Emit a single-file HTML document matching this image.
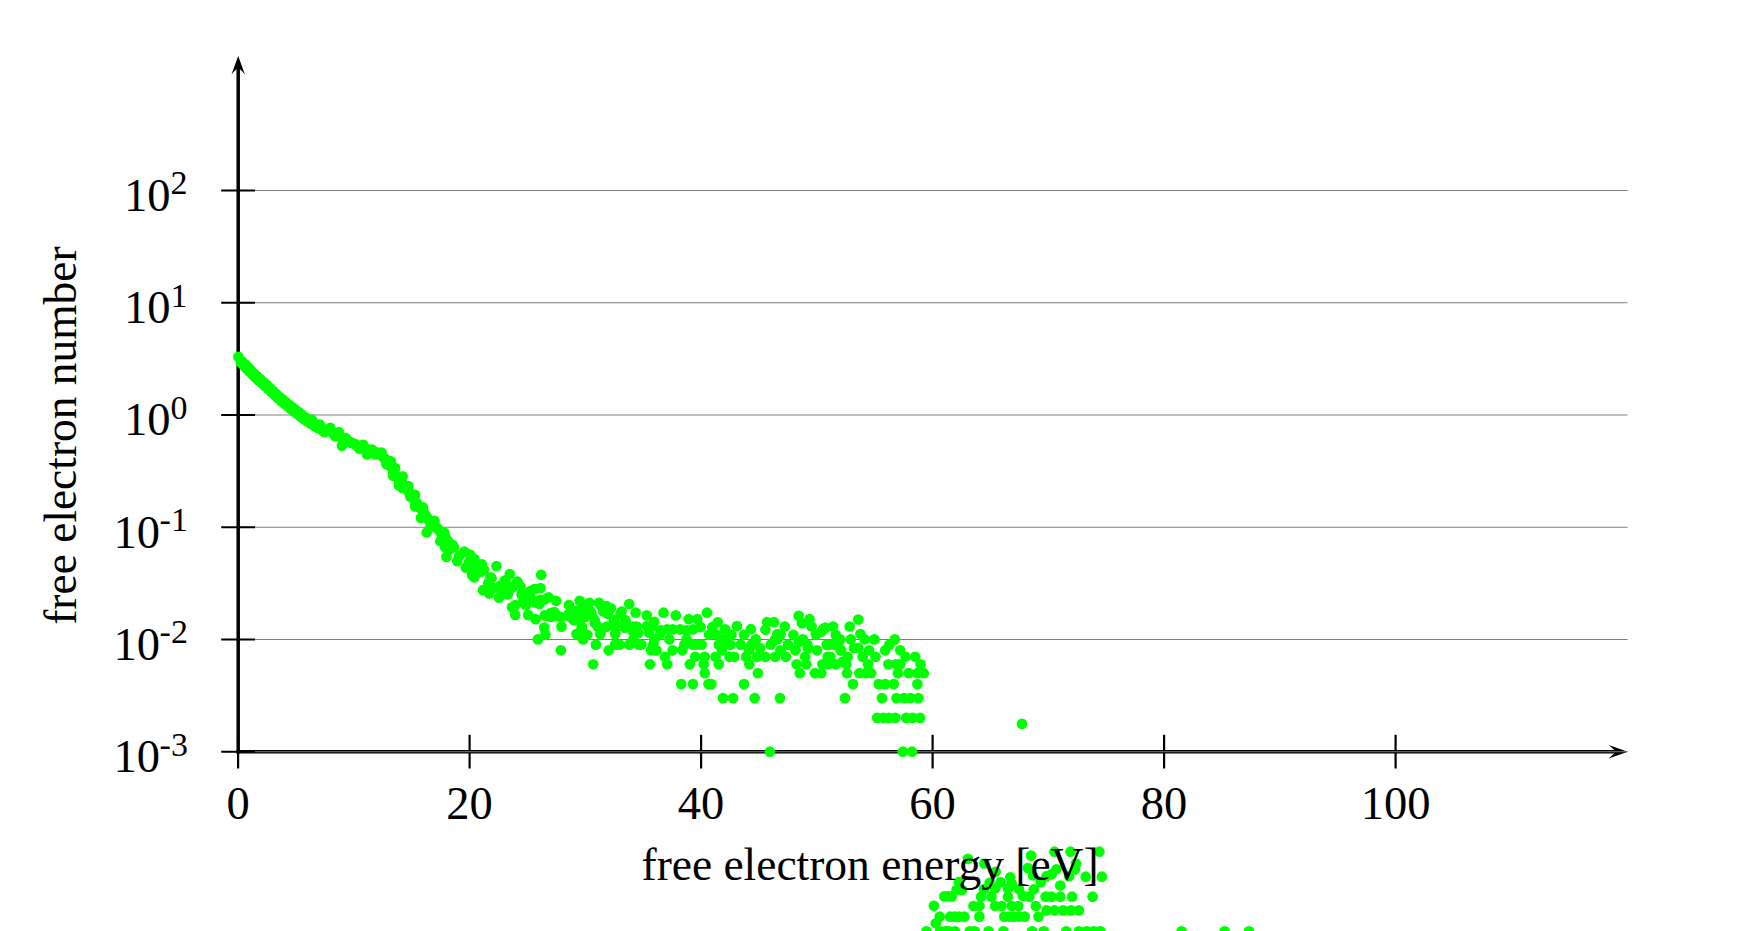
<!DOCTYPE html>
<html><head><meta charset="utf-8"><style>
html,body{margin:0;padding:0;background:#fff;overflow:hidden;}
svg{display:block;}
text{font-family:"Liberation Serif",serif;fill:#000;}
</style></head><body>
<svg width="1740" height="931" viewBox="0 0 1740 931">
<rect width="1740" height="931" fill="#fff"/>
<line x1="238.2" y1="753.4" x2="238.2" y2="62" stroke="#000" stroke-width="3.5"/>
<line x1="236.5" y1="751.75" x2="1621" y2="751.75" stroke="#000" stroke-width="3.5"/>
<path d="M238.2,55.9 L244.9,74.6 Q240.5,69.0 238.2,68.0 Q235.9,69.0 231.5,74.6 Z" fill="#000"/>
<path d="M1627.8,751.75 L1608.7,745.0 Q1614.3,749.6 1615.3,751.75 Q1614.3,753.9 1608.7,758.5 Z" fill="#000"/>
<line x1="238.1" y1="734.8" x2="238.1" y2="768.5" stroke="#000" stroke-width="2.2"/>
<line x1="469.6" y1="734.8" x2="469.6" y2="768.5" stroke="#000" stroke-width="2.2"/>
<line x1="701.1" y1="734.8" x2="701.1" y2="768.5" stroke="#000" stroke-width="2.2"/>
<line x1="932.6" y1="734.8" x2="932.6" y2="768.5" stroke="#000" stroke-width="2.2"/>
<line x1="1164.1" y1="734.8" x2="1164.1" y2="768.5" stroke="#000" stroke-width="2.2"/>
<line x1="1395.6" y1="734.8" x2="1395.6" y2="768.5" stroke="#000" stroke-width="2.2"/>
<line x1="238.1" y1="190.48" x2="1627.6" y2="190.48" stroke="#808080" stroke-width="1.05"/>
<line x1="238.1" y1="302.74" x2="1627.6" y2="302.74" stroke="#808080" stroke-width="1.05"/>
<line x1="238.1" y1="415.0" x2="1627.6" y2="415.0" stroke="#808080" stroke-width="1.05"/>
<line x1="238.1" y1="527.25" x2="1627.6" y2="527.25" stroke="#808080" stroke-width="1.05"/>
<line x1="238.1" y1="639.5" x2="1627.6" y2="639.5" stroke="#808080" stroke-width="1.05"/>
<line x1="238.1" y1="751.75" x2="1627.6" y2="751.75" stroke="#808080" stroke-width="1.05"/>
<line x1="221.2" y1="190.48" x2="255" y2="190.48" stroke="#000" stroke-width="2.2"/>
<line x1="221.2" y1="302.74" x2="255" y2="302.74" stroke="#000" stroke-width="2.2"/>
<line x1="221.2" y1="415.0" x2="255" y2="415.0" stroke="#000" stroke-width="2.2"/>
<line x1="221.2" y1="527.25" x2="255" y2="527.25" stroke="#000" stroke-width="2.2"/>
<line x1="221.2" y1="639.5" x2="255" y2="639.5" stroke="#000" stroke-width="2.2"/>
<line x1="221.2" y1="751.75" x2="255" y2="751.75" stroke="#000" stroke-width="2.2"/>
<g fill="#00ff00">
<circle cx="238.4" cy="356.9" r="5.35"/>
<circle cx="240.9" cy="362.8" r="5.35"/>
<circle cx="242.3" cy="361.5" r="5.35"/>
<circle cx="243.8" cy="365.7" r="5.35"/>
<circle cx="245.2" cy="364.4" r="5.35"/>
<circle cx="246.6" cy="368.7" r="5.35"/>
<circle cx="248.1" cy="367.3" r="5.35"/>
<circle cx="249.5" cy="371.6" r="5.35"/>
<circle cx="250.9" cy="370.3" r="5.35"/>
<circle cx="252.4" cy="374.5" r="5.35"/>
<circle cx="253.8" cy="373.2" r="5.35"/>
<circle cx="255.4" cy="377.5" r="5.35"/>
<circle cx="257.0" cy="376.1" r="5.35"/>
<circle cx="258.6" cy="380.4" r="5.35"/>
<circle cx="260.2" cy="379.1" r="5.35"/>
<circle cx="261.9" cy="383.3" r="5.35"/>
<circle cx="263.5" cy="382.0" r="5.35"/>
<circle cx="265.1" cy="386.2" r="5.35"/>
<circle cx="266.7" cy="384.9" r="5.35"/>
<circle cx="268.3" cy="389.2" r="5.35"/>
<circle cx="269.9" cy="387.9" r="5.35"/>
<circle cx="271.5" cy="392.2" r="5.35"/>
<circle cx="273.1" cy="391.0" r="5.35"/>
<circle cx="274.8" cy="395.3" r="5.35"/>
<circle cx="276.4" cy="394.0" r="5.35"/>
<circle cx="278.0" cy="398.3" r="5.35"/>
<circle cx="279.6" cy="397.0" r="5.35"/>
<circle cx="281.2" cy="401.1" r="5.35"/>
<circle cx="282.8" cy="399.6" r="5.35"/>
<circle cx="284.4" cy="403.7" r="5.35"/>
<circle cx="286.0" cy="402.2" r="5.35"/>
<circle cx="287.6" cy="406.3" r="5.35"/>
<circle cx="289.2" cy="404.8" r="5.35"/>
<circle cx="290.8" cy="408.9" r="5.35"/>
<circle cx="292.4" cy="407.4" r="5.35"/>
<circle cx="294.0" cy="411.4" r="5.35"/>
<circle cx="295.6" cy="409.9" r="5.35"/>
<circle cx="297.2" cy="413.9" r="5.35"/>
<circle cx="298.9" cy="412.4" r="5.35"/>
<circle cx="300.5" cy="416.4" r="5.35"/>
<circle cx="302.1" cy="414.9" r="5.35"/>
<circle cx="303.7" cy="418.9" r="5.35"/>
<circle cx="305.3" cy="417.4" r="5.35"/>
<circle cx="307.2" cy="421.4" r="5.35"/>
<circle cx="309.2" cy="419.9" r="5.35"/>
<circle cx="311.1" cy="423.9" r="5.35"/>
<circle cx="313.1" cy="422.3" r="5.35"/>
<circle cx="315.1" cy="426.4" r="5.35"/>
<circle cx="317.0" cy="424.8" r="5.35"/>
<circle cx="318.9" cy="428.5" r="5.35"/>
<circle cx="320.8" cy="426.7" r="5.35"/>
<circle cx="322.6" cy="430.4" r="5.35"/>
<circle cx="324.5" cy="430.0" r="5.35"/>
<circle cx="327.2" cy="430.5" r="5.35"/>
<circle cx="330.0" cy="431.0" r="5.35"/>
<circle cx="332.0" cy="432.2" r="5.35"/>
<circle cx="334.0" cy="433.4" r="5.35"/>
<circle cx="336.0" cy="434.6" r="5.35"/>
<circle cx="338.0" cy="435.8" r="5.35"/>
<circle cx="340.0" cy="437.0" r="5.35"/>
<circle cx="342.0" cy="438.0" r="5.35"/>
<circle cx="344.0" cy="439.0" r="5.35"/>
<circle cx="346.0" cy="440.0" r="5.35"/>
<circle cx="348.0" cy="441.0" r="5.35"/>
<circle cx="350.0" cy="442.0" r="5.35"/>
<circle cx="352.0" cy="442.9" r="5.35"/>
<circle cx="354.0" cy="443.8" r="5.35"/>
<circle cx="356.0" cy="444.7" r="5.35"/>
<circle cx="358.0" cy="445.6" r="5.35"/>
<circle cx="360.0" cy="446.5" r="5.35"/>
<circle cx="362.0" cy="447.3" r="5.35"/>
<circle cx="364.0" cy="448.1" r="5.35"/>
<circle cx="366.0" cy="448.9" r="5.35"/>
<circle cx="368.0" cy="449.7" r="5.35"/>
<circle cx="370.0" cy="450.5" r="5.35"/>
<circle cx="372.0" cy="451.1" r="5.35"/>
<circle cx="374.0" cy="451.7" r="5.35"/>
<circle cx="376.0" cy="452.3" r="5.35"/>
<circle cx="378.0" cy="452.9" r="5.35"/>
<circle cx="380.0" cy="453.5" r="5.35"/>
<circle cx="381.5" cy="455.1" r="5.35"/>
<circle cx="383.0" cy="456.8" r="5.35"/>
<circle cx="384.5" cy="458.4" r="5.35"/>
<circle cx="386.0" cy="460.0" r="5.35"/>
<circle cx="387.2" cy="461.6" r="5.35"/>
<circle cx="388.4" cy="463.2" r="5.35"/>
<circle cx="389.6" cy="464.8" r="5.35"/>
<circle cx="390.8" cy="466.4" r="5.35"/>
<circle cx="392.0" cy="468.0" r="5.35"/>
<circle cx="393.0" cy="470.0" r="5.35"/>
<circle cx="394.0" cy="472.0" r="5.35"/>
<circle cx="395.0" cy="474.0" r="5.35"/>
<circle cx="396.0" cy="476.0" r="5.35"/>
<circle cx="397.4" cy="477.6" r="5.35"/>
<circle cx="398.8" cy="479.2" r="5.35"/>
<circle cx="400.2" cy="480.8" r="5.35"/>
<circle cx="401.6" cy="482.4" r="5.35"/>
<circle cx="403.0" cy="484.0" r="5.35"/>
<circle cx="404.2" cy="485.6" r="5.35"/>
<circle cx="405.4" cy="487.2" r="5.35"/>
<circle cx="406.6" cy="488.8" r="5.35"/>
<circle cx="407.8" cy="490.4" r="5.35"/>
<circle cx="409.0" cy="492.0" r="5.35"/>
<circle cx="410.2" cy="493.8" r="5.35"/>
<circle cx="411.4" cy="495.6" r="5.35"/>
<circle cx="412.6" cy="497.4" r="5.35"/>
<circle cx="413.8" cy="499.2" r="5.35"/>
<circle cx="415.0" cy="501.0" r="5.35"/>
<circle cx="416.4" cy="502.8" r="5.35"/>
<circle cx="417.8" cy="504.6" r="5.35"/>
<circle cx="419.2" cy="506.4" r="5.35"/>
<circle cx="420.6" cy="508.2" r="5.35"/>
<circle cx="422.0" cy="510.0" r="5.35"/>
<circle cx="423.2" cy="511.8" r="5.35"/>
<circle cx="424.4" cy="513.6" r="5.35"/>
<circle cx="425.6" cy="515.4" r="5.35"/>
<circle cx="426.8" cy="517.2" r="5.35"/>
<circle cx="428.0" cy="519.0" r="5.35"/>
<circle cx="429.6" cy="520.6" r="5.35"/>
<circle cx="431.2" cy="522.2" r="5.35"/>
<circle cx="432.8" cy="523.8" r="5.35"/>
<circle cx="434.4" cy="525.4" r="5.35"/>
<circle cx="436.0" cy="527.0" r="5.35"/>
<circle cx="437.4" cy="528.6" r="5.35"/>
<circle cx="438.8" cy="530.2" r="5.35"/>
<circle cx="440.2" cy="531.8" r="5.35"/>
<circle cx="441.6" cy="533.4" r="5.35"/>
<circle cx="443.0" cy="535.0" r="5.35"/>
<circle cx="444.4" cy="536.8" r="5.35"/>
<circle cx="445.8" cy="538.6" r="5.35"/>
<circle cx="447.2" cy="540.4" r="5.35"/>
<circle cx="448.6" cy="542.2" r="5.35"/>
<circle cx="450.0" cy="544.0" r="5.35"/>
<circle cx="311.9" cy="419.7" r="5.35"/>
<circle cx="315.8" cy="426.4" r="5.35"/>
<circle cx="319.7" cy="424.5" r="5.35"/>
<circle cx="324.5" cy="432.2" r="5.35"/>
<circle cx="330.3" cy="427.9" r="5.35"/>
<circle cx="335.1" cy="436.1" r="5.35"/>
<circle cx="339.0" cy="432.2" r="5.35"/>
<circle cx="341.9" cy="445.8" r="5.35"/>
<circle cx="345.8" cy="438.0" r="5.35"/>
<circle cx="351.6" cy="442.9" r="5.35"/>
<circle cx="359.3" cy="448.7" r="5.35"/>
<circle cx="363.2" cy="444.8" r="5.35"/>
<circle cx="367.0" cy="454.5" r="5.35"/>
<circle cx="371.9" cy="449.6" r="5.35"/>
<circle cx="375.7" cy="454.5" r="5.35"/>
<circle cx="381.5" cy="452.5" r="5.35"/>
<circle cx="386.4" cy="464.1" r="5.35"/>
<circle cx="390.2" cy="461.2" r="5.35"/>
<circle cx="393.1" cy="475.7" r="5.35"/>
<circle cx="395.1" cy="468.0" r="5.35"/>
<circle cx="398.9" cy="485.4" r="5.35"/>
<circle cx="391.0" cy="461.9" r="5.35"/>
<circle cx="393.9" cy="472.6" r="5.35"/>
<circle cx="402.6" cy="476.4" r="5.35"/>
<circle cx="402.6" cy="488.0" r="5.35"/>
<circle cx="408.4" cy="486.1" r="5.35"/>
<circle cx="410.3" cy="496.7" r="5.35"/>
<circle cx="415.1" cy="494.8" r="5.35"/>
<circle cx="415.1" cy="506.4" r="5.35"/>
<circle cx="422.9" cy="507.4" r="5.35"/>
<circle cx="420.9" cy="518.0" r="5.35"/>
<circle cx="425.8" cy="517.0" r="5.35"/>
<circle cx="434.5" cy="520.9" r="5.35"/>
<circle cx="426.7" cy="532.5" r="5.35"/>
<circle cx="430.6" cy="526.7" r="5.35"/>
<circle cx="444.1" cy="532.5" r="5.35"/>
<circle cx="440.3" cy="541.2" r="5.35"/>
<circle cx="445.1" cy="547.0" r="5.35"/>
<circle cx="452.8" cy="545.1" r="5.35"/>
<circle cx="444.3" cy="533.2" r="5.35"/>
<circle cx="446.4" cy="544.0" r="5.35"/>
<circle cx="446.4" cy="556.9" r="5.35"/>
<circle cx="454.0" cy="547.2" r="5.35"/>
<circle cx="457.2" cy="561.1" r="5.35"/>
<circle cx="464.2" cy="551.5" r="5.35"/>
<circle cx="470.1" cy="554.7" r="5.35"/>
<circle cx="465.8" cy="567.6" r="5.35"/>
<circle cx="474.4" cy="559.0" r="5.35"/>
<circle cx="472.2" cy="575.1" r="5.35"/>
<circle cx="474.4" cy="577.3" r="5.35"/>
<circle cx="481.9" cy="564.4" r="5.35"/>
<circle cx="484.0" cy="569.7" r="5.35"/>
<circle cx="496.4" cy="566.0" r="5.35"/>
<circle cx="490.5" cy="577.3" r="5.35"/>
<circle cx="483.0" cy="590.2" r="5.35"/>
<circle cx="489.4" cy="593.4" r="5.35"/>
<circle cx="499.1" cy="597.7" r="5.35"/>
<circle cx="500.2" cy="585.9" r="5.35"/>
<circle cx="505.5" cy="581.6" r="5.35"/>
<circle cx="509.8" cy="574.0" r="5.35"/>
<circle cx="506.6" cy="590.2" r="5.35"/>
<circle cx="517.3" cy="581.6" r="5.35"/>
<circle cx="520.6" cy="586.9" r="5.35"/>
<circle cx="515.2" cy="605.2" r="5.35"/>
<circle cx="512.0" cy="607.3" r="5.35"/>
<circle cx="515.2" cy="614.9" r="5.35"/>
<circle cx="525.9" cy="605.2" r="5.35"/>
<circle cx="528.1" cy="614.9" r="5.35"/>
<circle cx="534.5" cy="589.1" r="5.35"/>
<circle cx="534.5" cy="600.9" r="5.35"/>
<circle cx="535.6" cy="619.2" r="5.35"/>
<circle cx="521.6" cy="594.4" r="5.35"/>
<circle cx="544.3" cy="599.7" r="5.35"/>
<circle cx="556.1" cy="600.8" r="5.35"/>
<circle cx="547.5" cy="615.8" r="5.35"/>
<circle cx="557.2" cy="615.8" r="5.35"/>
<circle cx="569.0" cy="605.1" r="5.35"/>
<circle cx="579.7" cy="600.8" r="5.35"/>
<circle cx="589.4" cy="602.9" r="5.35"/>
<circle cx="599.1" cy="602.9" r="5.35"/>
<circle cx="606.6" cy="606.1" r="5.35"/>
<circle cx="610.9" cy="608.3" r="5.35"/>
<circle cx="570.1" cy="616.9" r="5.35"/>
<circle cx="578.7" cy="615.8" r="5.35"/>
<circle cx="590.5" cy="611.5" r="5.35"/>
<circle cx="603.4" cy="611.5" r="5.35"/>
<circle cx="621.6" cy="611.5" r="5.35"/>
<circle cx="629.2" cy="604.0" r="5.35"/>
<circle cx="635.6" cy="612.6" r="5.35"/>
<circle cx="544.3" cy="627.6" r="5.35"/>
<circle cx="561.5" cy="626.6" r="5.35"/>
<circle cx="581.9" cy="626.6" r="5.35"/>
<circle cx="594.8" cy="623.3" r="5.35"/>
<circle cx="606.6" cy="626.6" r="5.35"/>
<circle cx="625.9" cy="622.3" r="5.35"/>
<circle cx="636.7" cy="626.6" r="5.35"/>
<circle cx="545.4" cy="634.8" r="5.35"/>
<circle cx="576.5" cy="634.1" r="5.35"/>
<circle cx="583.0" cy="639.4" r="5.35"/>
<circle cx="587.3" cy="634.8" r="5.35"/>
<circle cx="600.2" cy="634.1" r="5.35"/>
<circle cx="615.2" cy="634.1" r="5.35"/>
<circle cx="595.9" cy="644.6" r="5.35"/>
<circle cx="560.9" cy="650.3" r="5.35"/>
<circle cx="608.7" cy="650.3" r="5.35"/>
<circle cx="615.2" cy="644.6" r="5.35"/>
<circle cx="619.5" cy="644.6" r="5.35"/>
<circle cx="629.2" cy="644.6" r="5.35"/>
<circle cx="638.8" cy="644.6" r="5.35"/>
<circle cx="633.4" cy="639.4" r="5.35"/>
<circle cx="593.2" cy="664.3" r="5.35"/>
<circle cx="624.9" cy="627.6" r="5.35"/>
<circle cx="613.0" cy="625.5" r="5.35"/>
<circle cx="575.4" cy="612.6" r="5.35"/>
<circle cx="537.9" cy="639.4" r="5.35"/>
<circle cx="539.5" cy="604.0" r="5.35"/>
<circle cx="541.2" cy="574.8" r="5.35"/>
<circle cx="459.3" cy="555.8" r="5.35"/>
<circle cx="469.0" cy="562.2" r="5.35"/>
<circle cx="475.5" cy="568.7" r="5.35"/>
<circle cx="472.2" cy="573.5" r="5.35"/>
<circle cx="480.3" cy="571.9" r="5.35"/>
<circle cx="488.3" cy="583.2" r="5.35"/>
<circle cx="493.2" cy="588.0" r="5.35"/>
<circle cx="501.2" cy="594.5" r="5.35"/>
<circle cx="507.7" cy="594.5" r="5.35"/>
<circle cx="510.9" cy="588.0" r="5.35"/>
<circle cx="491.6" cy="578.3" r="5.35"/>
<circle cx="527.0" cy="594.5" r="5.35"/>
<circle cx="530.2" cy="591.2" r="5.35"/>
<circle cx="523.8" cy="597.7" r="5.35"/>
<circle cx="530.2" cy="596.1" r="5.35"/>
<circle cx="527.0" cy="600.9" r="5.35"/>
<circle cx="544.8" cy="615.4" r="5.35"/>
<circle cx="551.2" cy="617.0" r="5.35"/>
<circle cx="560.9" cy="617.0" r="5.35"/>
<circle cx="554.4" cy="612.2" r="5.35"/>
<circle cx="568.9" cy="613.8" r="5.35"/>
<circle cx="573.8" cy="620.2" r="5.35"/>
<circle cx="578.6" cy="620.2" r="5.35"/>
<circle cx="585.0" cy="617.0" r="5.35"/>
<circle cx="591.5" cy="613.8" r="5.35"/>
<circle cx="594.7" cy="620.2" r="5.35"/>
<circle cx="597.9" cy="626.7" r="5.35"/>
<circle cx="601.2" cy="629.9" r="5.35"/>
<circle cx="581.8" cy="628.3" r="5.35"/>
<circle cx="577.0" cy="610.6" r="5.35"/>
<circle cx="607.6" cy="613.8" r="5.35"/>
<circle cx="601.2" cy="605.7" r="5.35"/>
<circle cx="614.1" cy="620.2" r="5.35"/>
<circle cx="620.5" cy="613.8" r="5.35"/>
<circle cx="625.3" cy="620.2" r="5.35"/>
<circle cx="617.3" cy="626.7" r="5.35"/>
<circle cx="626.9" cy="626.7" r="5.35"/>
<circle cx="633.4" cy="626.7" r="5.35"/>
<circle cx="638.2" cy="633.1" r="5.35"/>
<circle cx="646.8" cy="615.4" r="5.35"/>
<circle cx="654.3" cy="621.9" r="5.35"/>
<circle cx="663.5" cy="612.7" r="5.35"/>
<circle cx="675.8" cy="615.4" r="5.35"/>
<circle cx="688.7" cy="619.2" r="5.35"/>
<circle cx="697.3" cy="619.2" r="5.35"/>
<circle cx="700.5" cy="627.2" r="5.35"/>
<circle cx="707.0" cy="612.7" r="5.35"/>
<circle cx="717.7" cy="622.4" r="5.35"/>
<circle cx="712.3" cy="627.2" r="5.35"/>
<circle cx="725.2" cy="629.4" r="5.35"/>
<circle cx="646.8" cy="626.1" r="5.35"/>
<circle cx="649.0" cy="632.6" r="5.35"/>
<circle cx="660.8" cy="630.4" r="5.35"/>
<circle cx="667.2" cy="629.4" r="5.35"/>
<circle cx="672.6" cy="629.4" r="5.35"/>
<circle cx="680.1" cy="629.4" r="5.35"/>
<circle cx="686.6" cy="630.4" r="5.35"/>
<circle cx="693.0" cy="629.4" r="5.35"/>
<circle cx="659.7" cy="634.8" r="5.35"/>
<circle cx="669.4" cy="639.4" r="5.35"/>
<circle cx="686.6" cy="639.4" r="5.35"/>
<circle cx="709.1" cy="634.7" r="5.35"/>
<circle cx="716.6" cy="634.8" r="5.35"/>
<circle cx="723.1" cy="639.4" r="5.35"/>
<circle cx="730.6" cy="644.6" r="5.35"/>
<circle cx="641.4" cy="644.6" r="5.35"/>
<circle cx="653.3" cy="644.6" r="5.35"/>
<circle cx="654.3" cy="639.4" r="5.35"/>
<circle cx="651.1" cy="650.3" r="5.35"/>
<circle cx="656.5" cy="650.3" r="5.35"/>
<circle cx="672.6" cy="650.3" r="5.35"/>
<circle cx="682.3" cy="650.3" r="5.35"/>
<circle cx="684.4" cy="644.6" r="5.35"/>
<circle cx="693.0" cy="644.6" r="5.35"/>
<circle cx="701.6" cy="644.6" r="5.35"/>
<circle cx="718.8" cy="644.6" r="5.35"/>
<circle cx="722.0" cy="650.3" r="5.35"/>
<circle cx="729.5" cy="656.8" r="5.35"/>
<circle cx="665.1" cy="656.8" r="5.35"/>
<circle cx="695.2" cy="656.8" r="5.35"/>
<circle cx="704.8" cy="656.8" r="5.35"/>
<circle cx="715.6" cy="656.8" r="5.35"/>
<circle cx="650.0" cy="664.3" r="5.35"/>
<circle cx="667.2" cy="664.3" r="5.35"/>
<circle cx="689.8" cy="664.3" r="5.35"/>
<circle cx="703.7" cy="664.3" r="5.35"/>
<circle cx="718.8" cy="664.3" r="5.35"/>
<circle cx="704.8" cy="673.2" r="5.35"/>
<circle cx="681.2" cy="684.1" r="5.35"/>
<circle cx="693.0" cy="684.1" r="5.35"/>
<circle cx="711.3" cy="684.1" r="5.35"/>
<circle cx="737.0" cy="626.0" r="5.35"/>
<circle cx="750.9" cy="629.2" r="5.35"/>
<circle cx="744.0" cy="634.8" r="5.35"/>
<circle cx="755.8" cy="639.4" r="5.35"/>
<circle cx="740.7" cy="644.6" r="5.35"/>
<circle cx="751.5" cy="644.6" r="5.35"/>
<circle cx="760.1" cy="648.0" r="5.35"/>
<circle cx="734.3" cy="656.8" r="5.35"/>
<circle cx="746.1" cy="656.8" r="5.35"/>
<circle cx="749.3" cy="664.3" r="5.35"/>
<circle cx="756.9" cy="656.8" r="5.35"/>
<circle cx="765.4" cy="656.8" r="5.35"/>
<circle cx="757.9" cy="673.2" r="5.35"/>
<circle cx="744.0" cy="684.1" r="5.35"/>
<circle cx="767.1" cy="622.2" r="5.35"/>
<circle cx="774.0" cy="622.2" r="5.35"/>
<circle cx="765.4" cy="629.7" r="5.35"/>
<circle cx="777.3" cy="634.0" r="5.35"/>
<circle cx="784.8" cy="626.5" r="5.35"/>
<circle cx="770.8" cy="644.6" r="5.35"/>
<circle cx="775.1" cy="639.4" r="5.35"/>
<circle cx="775.1" cy="656.8" r="5.35"/>
<circle cx="780.5" cy="650.3" r="5.35"/>
<circle cx="785.9" cy="656.8" r="5.35"/>
<circle cx="788.0" cy="644.6" r="5.35"/>
<circle cx="793.4" cy="634.8" r="5.35"/>
<circle cx="795.5" cy="650.3" r="5.35"/>
<circle cx="798.7" cy="615.8" r="5.35"/>
<circle cx="802.0" cy="623.3" r="5.35"/>
<circle cx="809.5" cy="619.0" r="5.35"/>
<circle cx="811.6" cy="626.5" r="5.35"/>
<circle cx="803.0" cy="639.4" r="5.35"/>
<circle cx="807.3" cy="644.6" r="5.35"/>
<circle cx="815.9" cy="634.8" r="5.35"/>
<circle cx="823.4" cy="628.7" r="5.35"/>
<circle cx="817.0" cy="650.3" r="5.35"/>
<circle cx="826.7" cy="644.6" r="5.35"/>
<circle cx="796.6" cy="664.3" r="5.35"/>
<circle cx="805.2" cy="656.8" r="5.35"/>
<circle cx="806.3" cy="664.3" r="5.35"/>
<circle cx="799.8" cy="673.2" r="5.35"/>
<circle cx="814.9" cy="673.2" r="5.35"/>
<circle cx="821.3" cy="673.2" r="5.35"/>
<circle cx="822.4" cy="664.3" r="5.35"/>
<circle cx="827.7" cy="656.8" r="5.35"/>
<circle cx="833.1" cy="626.5" r="5.35"/>
<circle cx="835.7" cy="634.8" r="5.35"/>
<circle cx="840.0" cy="639.4" r="5.35"/>
<circle cx="837.9" cy="644.6" r="5.35"/>
<circle cx="841.1" cy="650.3" r="5.35"/>
<circle cx="829.3" cy="644.6" r="5.35"/>
<circle cx="830.4" cy="656.8" r="5.35"/>
<circle cx="828.2" cy="664.3" r="5.35"/>
<circle cx="835.7" cy="664.3" r="5.35"/>
<circle cx="842.2" cy="662.0" r="5.35"/>
<circle cx="847.6" cy="656.8" r="5.35"/>
<circle cx="846.5" cy="664.3" r="5.35"/>
<circle cx="847.0" cy="673.2" r="5.35"/>
<circle cx="849.7" cy="626.5" r="5.35"/>
<circle cx="858.3" cy="619.5" r="5.35"/>
<circle cx="850.8" cy="639.4" r="5.35"/>
<circle cx="854.0" cy="648.0" r="5.35"/>
<circle cx="860.4" cy="634.0" r="5.35"/>
<circle cx="864.7" cy="639.4" r="5.35"/>
<circle cx="858.3" cy="648.0" r="5.35"/>
<circle cx="862.6" cy="656.8" r="5.35"/>
<circle cx="869.0" cy="650.3" r="5.35"/>
<circle cx="875.5" cy="656.8" r="5.35"/>
<circle cx="868.0" cy="664.3" r="5.35"/>
<circle cx="859.4" cy="673.2" r="5.35"/>
<circle cx="871.2" cy="673.2" r="5.35"/>
<circle cx="852.9" cy="684.1" r="5.35"/>
<circle cx="874.4" cy="639.4" r="5.35"/>
<circle cx="894.8" cy="639.4" r="5.35"/>
<circle cx="889.4" cy="644.6" r="5.35"/>
<circle cx="885.2" cy="650.3" r="5.35"/>
<circle cx="900.2" cy="650.3" r="5.35"/>
<circle cx="905.6" cy="656.8" r="5.35"/>
<circle cx="915.2" cy="656.8" r="5.35"/>
<circle cx="888.4" cy="664.3" r="5.35"/>
<circle cx="895.9" cy="664.3" r="5.35"/>
<circle cx="900.2" cy="664.3" r="5.35"/>
<circle cx="920.6" cy="664.3" r="5.35"/>
<circle cx="898.0" cy="673.2" r="5.35"/>
<circle cx="908.8" cy="673.2" r="5.35"/>
<circle cx="917.4" cy="673.2" r="5.35"/>
<circle cx="923.8" cy="673.2" r="5.35"/>
<circle cx="878.7" cy="684.1" r="5.35"/>
<circle cx="885.2" cy="684.1" r="5.35"/>
<circle cx="893.7" cy="684.1" r="5.35"/>
<circle cx="917.4" cy="684.1" r="5.35"/>
<circle cx="882.0" cy="698.1" r="5.35"/>
<circle cx="896.5" cy="698.1" r="5.35"/>
<circle cx="904.0" cy="698.1" r="5.35"/>
<circle cx="910.5" cy="698.1" r="5.35"/>
<circle cx="918.5" cy="698.1" r="5.35"/>
<circle cx="845.0" cy="698.1" r="5.35"/>
<circle cx="877.2" cy="717.9" r="5.35"/>
<circle cx="883.6" cy="717.9" r="5.35"/>
<circle cx="889.0" cy="717.9" r="5.35"/>
<circle cx="895.4" cy="717.9" r="5.35"/>
<circle cx="906.2" cy="717.9" r="5.35"/>
<circle cx="912.6" cy="717.9" r="5.35"/>
<circle cx="920.1" cy="717.9" r="5.35"/>
<circle cx="902.9" cy="751.7" r="5.35"/>
<circle cx="912.1" cy="751.7" r="5.35"/>
<circle cx="769.9" cy="751.7" r="5.35"/>
<circle cx="723.0" cy="698.1" r="5.35"/>
<circle cx="733.1" cy="698.1" r="5.35"/>
<circle cx="754.7" cy="698.1" r="5.35"/>
<circle cx="780.0" cy="698.1" r="5.35"/>
<circle cx="1022.0" cy="723.9" r="5.35"/>
<circle cx="445.5" cy="547.1" r="5.35"/>
<circle cx="540.8" cy="599.9" r="5.35"/>
<circle cx="548.5" cy="597.3" r="5.35"/>
<circle cx="551.1" cy="612.8" r="5.35"/>
<circle cx="522.8" cy="602.5" r="5.35"/>
<circle cx="540.5" cy="588.0" r="5.35"/>
<circle cx="697.1" cy="644.6" r="5.35"/>
<circle cx="731.4" cy="634.9" r="5.35"/>
<circle cx="724.3" cy="642.0" r="5.35"/>
<circle cx="749.1" cy="650.3" r="5.35"/>
<circle cx="777.4" cy="639.4" r="5.35"/>
<circle cx="808.2" cy="647.9" r="5.35"/>
<circle cx="834.2" cy="644.6" r="5.35"/>
<circle cx="708.5" cy="684.1" r="5.35"/>
<circle cx="865.7" cy="673.2" r="5.35"/>
<circle cx="780.4" cy="634.8" r="5.35"/>
<circle cx="798.8" cy="641.9" r="5.35"/>
<circle cx="821.2" cy="631.7" r="5.35"/>
<circle cx="825.3" cy="627.7" r="5.35"/>
<circle cx="840.6" cy="650.3" r="5.35"/>
<circle cx="808.0" cy="648.1" r="5.35"/>
<circle cx="583.0" cy="609.0" r="5.35"/>
<circle cx="632.4" cy="630.5" r="5.35"/>
<circle cx="652.8" cy="626.2" r="5.35"/>
<circle cx="449.3" cy="549.6" r="5.35"/>
<circle cx="504.7" cy="580.6" r="5.35"/>
<circle cx="512.5" cy="587.0" r="5.35"/>
<circle cx="530.5" cy="592.1" r="5.35"/>
<circle cx="535.6" cy="602.5" r="5.35"/>
<circle cx="967.9" cy="858.9" r="5.35"/>
<circle cx="984.5" cy="863.5" r="5.35"/>
<circle cx="995.6" cy="871.8" r="5.35"/>
<circle cx="1010.3" cy="877.3" r="5.35"/>
<circle cx="1031.1" cy="855.6" r="5.35"/>
<circle cx="1027.9" cy="868.1" r="5.35"/>
<circle cx="1033.0" cy="875.5" r="5.35"/>
<circle cx="958.8" cy="882.2" r="5.35"/>
<circle cx="989.6" cy="882.9" r="5.35"/>
<circle cx="1000.6" cy="882.0" r="5.35"/>
<circle cx="1011.7" cy="883.8" r="5.35"/>
<circle cx="956.6" cy="889.9" r="5.35"/>
<circle cx="962.1" cy="889.9" r="5.35"/>
<circle cx="984.0" cy="889.3" r="5.35"/>
<circle cx="995.1" cy="888.4" r="5.35"/>
<circle cx="1008.0" cy="888.4" r="5.35"/>
<circle cx="1019.1" cy="889.3" r="5.35"/>
<circle cx="1033.9" cy="889.3" r="5.35"/>
<circle cx="944.3" cy="896.4" r="5.35"/>
<circle cx="947.9" cy="896.4" r="5.35"/>
<circle cx="951.7" cy="896.4" r="5.35"/>
<circle cx="981.2" cy="896.7" r="5.35"/>
<circle cx="991.4" cy="896.7" r="5.35"/>
<circle cx="1008.0" cy="896.7" r="5.35"/>
<circle cx="1022.8" cy="895.8" r="5.35"/>
<circle cx="1029.3" cy="896.7" r="5.35"/>
<circle cx="933.9" cy="905.8" r="5.35"/>
<circle cx="973.5" cy="906.0" r="5.35"/>
<circle cx="979.4" cy="906.0" r="5.35"/>
<circle cx="995.1" cy="906.0" r="5.35"/>
<circle cx="1001.6" cy="906.0" r="5.35"/>
<circle cx="1011.7" cy="906.0" r="5.35"/>
<circle cx="1018.2" cy="906.0" r="5.35"/>
<circle cx="1035.8" cy="906.0" r="5.35"/>
<circle cx="939.7" cy="916.7" r="5.35"/>
<circle cx="950.1" cy="916.7" r="5.35"/>
<circle cx="954.5" cy="916.7" r="5.35"/>
<circle cx="958.8" cy="916.7" r="5.35"/>
<circle cx="964.3" cy="916.7" r="5.35"/>
<circle cx="979.4" cy="916.6" r="5.35"/>
<circle cx="1004.3" cy="916.6" r="5.35"/>
<circle cx="1013.6" cy="916.6" r="5.35"/>
<circle cx="1024.7" cy="916.6" r="5.35"/>
<circle cx="1038.5" cy="916.6" r="5.35"/>
<circle cx="935.8" cy="923.3" r="5.35"/>
<circle cx="926.5" cy="931.4" r="5.35"/>
<circle cx="940.2" cy="931.4" r="5.35"/>
<circle cx="945.7" cy="931.4" r="5.35"/>
<circle cx="949.0" cy="931.4" r="5.35"/>
<circle cx="955.0" cy="931.4" r="5.35"/>
<circle cx="969.8" cy="931.4" r="5.35"/>
<circle cx="974.8" cy="931.4" r="5.35"/>
<circle cx="988.6" cy="931.4" r="5.35"/>
<circle cx="1003.4" cy="931.4" r="5.35"/>
<circle cx="1032.1" cy="931.4" r="5.35"/>
<circle cx="1054.5" cy="851.7" r="5.35"/>
<circle cx="1070.6" cy="851.7" r="5.35"/>
<circle cx="1099.4" cy="851.7" r="5.35"/>
<circle cx="1076.0" cy="863.5" r="5.35"/>
<circle cx="1075.0" cy="869.3" r="5.35"/>
<circle cx="1056.4" cy="869.3" r="5.35"/>
<circle cx="1046.6" cy="876.2" r="5.35"/>
<circle cx="1069.1" cy="876.2" r="5.35"/>
<circle cx="1085.7" cy="876.7" r="5.35"/>
<circle cx="1101.9" cy="876.7" r="5.35"/>
<circle cx="1040.8" cy="882.1" r="5.35"/>
<circle cx="1060.3" cy="885.5" r="5.35"/>
<circle cx="1045.6" cy="896.7" r="5.35"/>
<circle cx="1051.5" cy="896.7" r="5.35"/>
<circle cx="1060.3" cy="896.7" r="5.35"/>
<circle cx="1072.1" cy="896.7" r="5.35"/>
<circle cx="1092.6" cy="896.7" r="5.35"/>
<circle cx="1046.6" cy="910.4" r="5.35"/>
<circle cx="1054.4" cy="910.4" r="5.35"/>
<circle cx="1063.3" cy="910.4" r="5.35"/>
<circle cx="1071.1" cy="910.4" r="5.35"/>
<circle cx="1078.9" cy="910.4" r="5.35"/>
<circle cx="1043.7" cy="931.4" r="5.35"/>
<circle cx="1066.2" cy="931.4" r="5.35"/>
<circle cx="1078.9" cy="931.4" r="5.35"/>
<circle cx="1086.7" cy="931.4" r="5.35"/>
<circle cx="1093.6" cy="931.4" r="5.35"/>
<circle cx="1100.4" cy="931.4" r="5.35"/>
<circle cx="1181.6" cy="931.4" r="5.35"/>
<circle cx="1224.6" cy="931.4" r="5.35"/>
<circle cx="1249.0" cy="931.4" r="5.35"/>
<circle cx="1051.7" cy="874.1" r="5.35"/>
<circle cx="1009.0" cy="916.6" r="5.35"/>
<circle cx="1019.0" cy="916.6" r="5.35"/>
</g>
<text x="238.1" y="818.8" text-anchor="middle" font-size="46.5">0</text>
<text x="469.6" y="818.8" text-anchor="middle" font-size="46.5">20</text>
<text x="701.1" y="818.8" text-anchor="middle" font-size="46.5">40</text>
<text x="932.6" y="818.8" text-anchor="middle" font-size="46.5">60</text>
<text x="1164.1" y="818.8" text-anchor="middle" font-size="46.5">80</text>
<text x="1395.6" y="818.8" text-anchor="middle" font-size="46.5">100</text>
<text x="124.1" y="210.9" font-size="46.5">10</text>
<text x="170.6" y="194.4" font-size="34">2</text>
<text x="124.1" y="323.1" font-size="46.5">10</text>
<text x="170.6" y="306.6" font-size="34">1</text>
<text x="124.1" y="435.4" font-size="46.5">10</text>
<text x="170.6" y="418.9" font-size="34">0</text>
<text x="113.6" y="547.6" font-size="46.5">10</text>
<text x="159.6" y="531.1" font-size="34">-1</text>
<text x="113.6" y="659.9" font-size="46.5">10</text>
<text x="159.6" y="643.4" font-size="34">-2</text>
<text x="113.6" y="772.1" font-size="46.5">10</text>
<text x="159.6" y="755.6" font-size="34">-3</text>
<text x="641.5" y="879.8" font-size="45.45">free electron energy [eV]</text>
<text transform="translate(76.4,624.8) rotate(-90)" x="0" y="0" font-size="45.45">free electron number</text>
</svg></body></html>
